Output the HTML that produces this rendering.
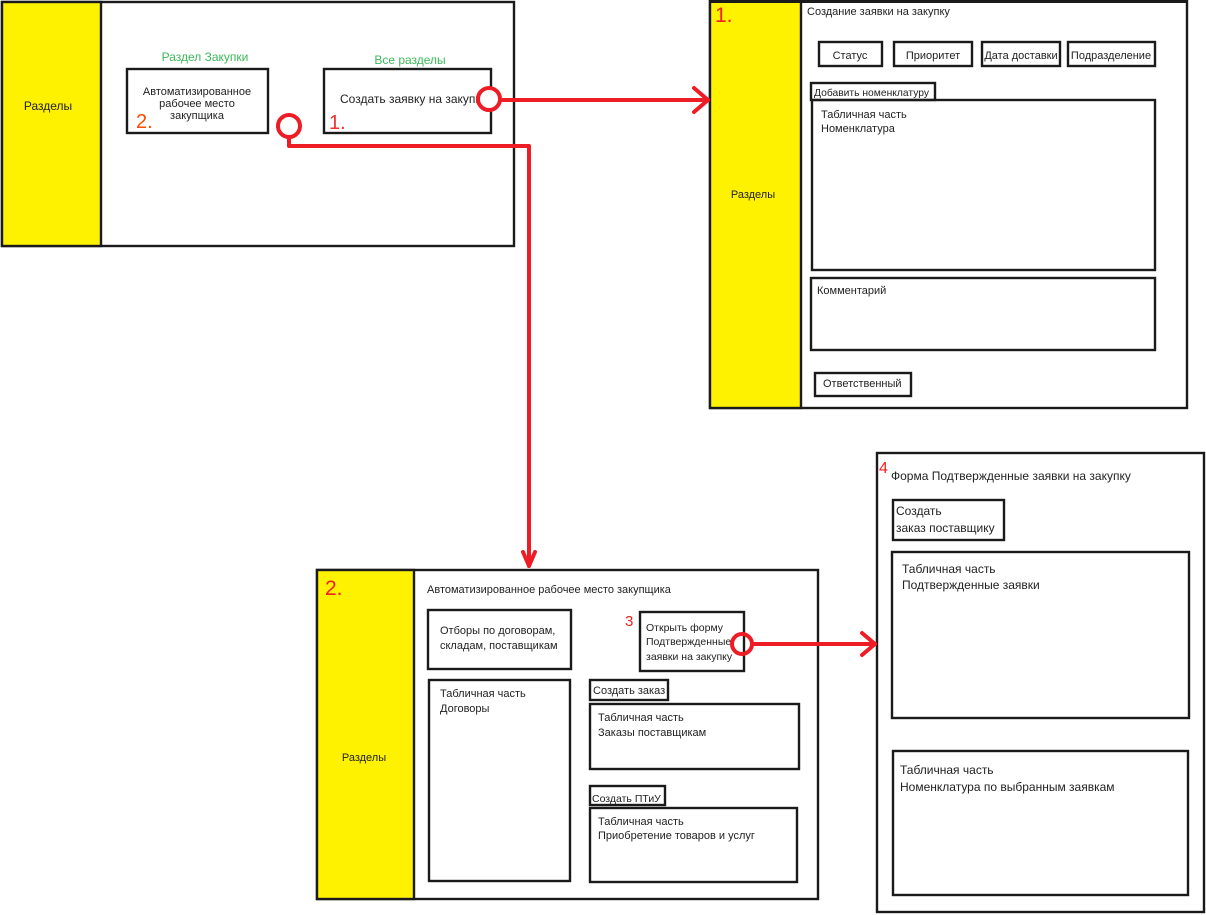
<!DOCTYPE html>
<html><head><meta charset="utf-8"><style>
html,body{margin:0;padding:0;background:#fff;width:1206px;height:915px;overflow:hidden}
text{font-family:"Liberation Sans","DejaVu Sans",sans-serif;fill:#222}
</style></head><body>
<svg width="1206" height="915" viewBox="0 0 1206 915" xmlns="http://www.w3.org/2000/svg">
<g fill="none" stroke="#1a1a1a" stroke-width="2.4">
<!-- Panel 1 -->
<rect x="2" y="2" width="512" height="244" fill="#fff"/>
<rect x="2" y="2" width="99" height="244" fill="#fff200"/>
<rect x="127" y="69" width="141" height="64"/>
<rect x="324" y="69" width="167" height="64"/>
<!-- Panel 2 -->
<rect x="710" y="1" width="477" height="407" fill="#fff"/>
<rect x="710" y="1" width="91" height="407" fill="#fff200"/>
<line x1="710" y1="1" x2="1187" y2="1" stroke-width="4"/>
<rect x="819" y="42" width="63" height="24"/>
<rect x="894" y="42" width="78" height="24"/>
<rect x="982" y="42" width="78" height="24"/>
<rect x="1068" y="42" width="87" height="24"/>
<rect x="811" y="83" width="124" height="17"/>
<rect x="812" y="100" width="343" height="170"/>
<rect x="811" y="278" width="344" height="72"/>
<rect x="815" y="373" width="96" height="23"/>
<!-- Panel 3 -->
<rect x="317" y="570" width="501" height="329" fill="#fff"/>
<rect x="317" y="570" width="97" height="329" fill="#fff200"/>
<rect x="428" y="610" width="143" height="59"/>
<rect x="429" y="680" width="141" height="201"/>
<rect x="640" y="612" width="104" height="59"/>
<rect x="590" y="680" width="78" height="20"/>
<rect x="590" y="704" width="209" height="65"/>
<rect x="590" y="786" width="75" height="19"/>
<rect x="590" y="808" width="207" height="74"/>
<!-- Panel 4 -->
<rect x="877" y="453" width="327" height="459" fill="#fff"/>
<rect x="893" y="500" width="111" height="40"/>
<rect x="892" y="552" width="297" height="166"/>
<rect x="893" y="751" width="295" height="144"/>
</g>

<!-- Panel 1 text -->
<text x="48" y="110" font-size="12" text-anchor="middle">Разделы</text>
<text x="205" y="61" font-size="12" text-anchor="middle" style="fill:#3cb95a">Раздел Закупки</text>
<text x="410" y="64" font-size="12" text-anchor="middle" style="fill:#3cb95a">Все разделы</text>
<text x="197" y="95" font-size="11" text-anchor="middle">Автоматизированное</text>
<text x="197" y="107" font-size="11" text-anchor="middle">рабочее место</text>
<text x="197" y="119" font-size="11" text-anchor="middle">закупщика</text>
<text x="340" y="103" font-size="12">Создать заявку на закупку</text>
<text x="136" y="128" font-size="20" style="fill:#ff4a00">2.</text>
<text x="329" y="129" font-size="20" style="fill:#f03030">1.</text>

<!-- Panel 2 text -->
<text x="715" y="22" font-size="21" style="fill:#f02020">1.</text>
<text x="807" y="15" font-size="11">Создание заявки на закупку</text>
<text x="753" y="198" font-size="11" text-anchor="middle">Разделы</text>
<text x="850" y="59" font-size="11" text-anchor="middle">Статус</text>
<text x="933" y="59" font-size="11" text-anchor="middle">Приоритет</text>
<text x="1021" y="59" font-size="11" text-anchor="middle">Дата доставки</text>
<text x="1111" y="59" font-size="11" text-anchor="middle">Подразделение</text>
<text x="814" y="96" font-size="10.3">Добавить номенклатуру</text>
<text x="821" y="118" font-size="11">Табличная часть</text>
<text x="821" y="132" font-size="11">Номенклатура</text>
<text x="817" y="294" font-size="11">Комментарий</text>
<text x="823" y="387" font-size="11">Ответственный</text>

<!-- Panel 3 text -->
<text x="325" y="595" font-size="21" style="fill:#f02020">2.</text>
<text x="427" y="593" font-size="11">Автоматизированное рабочее место закупщика</text>
<text x="364" y="761" font-size="11" text-anchor="middle">Разделы</text>
<text x="440" y="634" font-size="11">Отборы по договорам,</text>
<text x="440" y="649" font-size="11">складам, поставщикам</text>
<text x="440" y="697" font-size="11">Табличная часть</text>
<text x="440" y="712" font-size="11">Договоры</text>
<text x="625" y="626" font-size="15" style="fill:#f02020">3</text>
<text x="646" y="631" font-size="10.5">Открыть форму</text>
<text x="646" y="645" font-size="10.5">Подтвержденные</text>
<text x="646" y="660" font-size="10.5">заявки на закупку</text>
<text x="593" y="694" font-size="11">Создать заказ</text>
<text x="598" y="721" font-size="11">Табличная часть</text>
<text x="598" y="736" font-size="11">Заказы поставщикам</text>
<text x="592" y="802" font-size="10.5">Создать ПТиУ</text>
<text x="598" y="825" font-size="11">Табличная часть</text>
<text x="598" y="839" font-size="11">Приобретение товаров и услуг</text>

<!-- Panel 4 text -->
<text x="879" y="473" font-size="16" style="fill:#f02020">4</text>
<text x="891" y="480" font-size="12">Форма Подтвержденные заявки на закупку</text>
<text x="896" y="515" font-size="12">Создать</text>
<text x="896" y="532" font-size="12">заказ поставщику</text>
<text x="902" y="573" font-size="12">Табличная часть</text>
<text x="902" y="589" font-size="12">Подтвержденные заявки</text>
<text x="900" y="774" font-size="12">Табличная часть</text>
<text x="900" y="791" font-size="12">Номенклатура по выбранным заявкам</text>

<!-- Connectors -->
<g fill="none" stroke="#ee1c24" stroke-width="4" stroke-linecap="round" stroke-linejoin="round">
<circle cx="489" cy="99" r="11" fill="#fff"/>
<line x1="500" y1="100" x2="708" y2="100"/>
<polyline points="694,88 708,100 694,112"/>
<circle cx="289" cy="126" r="11" fill="#fff"/>
<polyline points="289,137 289,146 529,146 529,566"/>
<polyline points="523,552 529,566 535,552"/>
<circle cx="742" cy="644" r="10" fill="none"/>
<line x1="752" y1="644" x2="875" y2="644"/>
<polyline points="862,633 875,644 862,655"/>
</g>
</svg>
</body></html>
